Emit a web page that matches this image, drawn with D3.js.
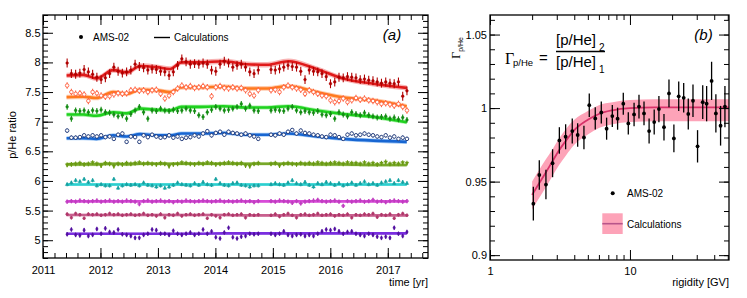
<!DOCTYPE html>
<html>
<head>
<meta charset="utf-8">
<script src="https://cdn.jsdelivr.net/npm/d3@7"></script>
<style>
body { margin: 0; background: #fff; }
svg { font-family: "Liberation Sans", Arial, sans-serif; }
</style>
</head>
<body>
<div id="chart"></div>
<script>
// ---------- data: panel (a), p/He ratio vs time ----------
// Bartels rotations used (2472 and 2473 are missing)
let bartels = [2426,2427,2428,2429,2430,2431,2432,2433,2434,2435,
  2436,2437,2438,2439,2440,2441,2442,2443,2444,2445,
  2446,2447,2448,2449,2450,2451,2452,2453,2454,2455,
  2456,2457,2458,2459,2460,2461,2462,2463,2464,2465,
  2466,2467,2468,2469,2470,2471,
  2474,2475,2476,2477,2478,2479,2480,2481,2482,2483,
  2484,2485,2486,2487,2488,2489,2490,2491,2492,2493,
  2494,2495,2496,2497,2498,2499,2500,2501,2502,2503,
  2504,2505,2506];

let redPts = [7.99,7.81,7.80,7.82,7.88,7.84,7.80,7.75,7.71,7.74,
  7.81,7.92,7.85,7.82,7.84,7.87,7.97,7.93,7.91,7.87,
  7.89,7.88,7.85,7.84,7.78,7.84,7.95,8.06,8.01,7.97,
  7.98,7.97,7.99,7.97,7.87,7.85,7.97,8.02,7.99,7.92,
  7.95,7.97,7.92,7.84,7.81,7.87,
  7.88,7.87,7.89,7.92,7.95,7.93,7.92,7.85,7.71,7.87,
  7.85,7.84,7.81,7.76,7.64,7.67,7.75,7.74,7.76,7.75,
  7.74,7.71,7.72,7.70,7.69,7.67,7.65,7.67,7.65,7.64,
  7.67,7.43,7.52];
let orangePts = [7.61,7.50,7.47,7.48,7.46,7.35,7.50,7.48,7.44,7.42,
  7.43,7.46,7.48,7.47,7.48,7.53,7.54,7.52,7.53,7.50,
  7.53,7.54,7.47,7.39,7.44,7.50,7.56,7.61,7.58,7.60,
  7.57,7.58,7.60,7.58,7.43,7.58,7.60,7.57,7.56,7.58,
  7.56,7.57,7.53,7.47,7.44,7.53,
  7.53,7.54,7.50,7.58,7.61,7.58,7.56,7.54,7.47,7.53,
  7.50,7.47,7.44,7.43,7.36,7.33,7.35,7.39,7.33,7.36,
  7.40,7.37,7.39,7.36,7.35,7.33,7.30,7.31,7.29,7.27,
  7.30,7.25,7.19];
let greenPts = [7.25,7.05,7.19,7.18,7.19,7.16,7.19,7.18,7.20,7.16,
  7.15,7.12,7.09,7.11,7.05,7.13,7.19,7.25,7.16,7.05,
  7.19,7.18,7.22,7.19,7.18,7.20,7.18,7.19,7.22,7.19,
  7.18,7.11,7.08,7.16,7.20,7.25,7.22,7.19,7.20,7.22,
  7.25,7.30,7.22,7.27,7.19,7.18,
  7.19,7.20,7.19,7.18,7.22,7.25,7.19,7.16,7.18,7.16,
  7.15,7.18,7.12,7.11,7.13,7.05,7.16,7.12,7.09,7.16,
  7.13,7.11,7.15,7.11,7.09,7.07,7.08,7.09,7.05,7.07,
  7.04,7.07,7.03];
let bluePts = [6.85,6.73,6.73,6.74,6.77,6.75,6.77,6.75,6.77,6.74,
  6.75,6.71,6.78,6.80,6.66,6.75,6.74,6.66,6.77,6.74,
  6.78,6.75,6.73,6.74,6.77,6.73,6.75,6.71,6.73,6.74,
  6.77,6.75,6.80,6.84,6.77,6.81,6.83,6.78,6.83,6.81,
  6.80,6.78,6.80,6.77,6.75,6.71,
  6.78,6.77,6.80,6.78,6.83,6.86,6.80,6.85,6.81,6.80,
  6.78,6.77,6.75,6.74,6.78,6.77,6.74,6.71,6.78,6.80,
  6.77,6.78,6.80,6.78,6.77,6.75,6.74,6.77,6.73,6.75,
  6.71,6.73,6.71];
let olivePts = [6.27,6.28,6.29,6.30,6.28,6.29,6.31,6.29,6.26,6.30,
  6.29,6.25,6.29,6.28,6.30,6.29,6.30,6.31,6.29,6.30,
  6.29,6.28,6.30,6.29,6.25,6.28,6.29,6.31,6.30,6.29,
  6.28,6.30,6.29,6.31,6.30,6.28,6.29,6.30,6.31,6.30,
  6.29,6.30,6.26,6.25,6.29,6.30,
  6.29,6.30,6.26,6.29,6.30,6.29,6.28,6.30,6.29,6.30,
  6.29,6.31,6.30,6.29,6.30,6.31,6.30,6.29,6.31,6.30,
  6.30,6.29,6.31,6.29,6.30,6.28,6.30,6.32,6.29,6.30,
  6.29,6.31,6.30];
let cyanPts = [5.94,5.97,6.01,5.99,6.03,5.98,6.01,5.92,5.94,5.92,
  5.92,6.03,5.88,5.92,5.94,5.93,5.94,5.92,5.97,5.93,
  5.92,5.90,5.92,5.88,5.90,5.93,5.97,5.94,5.93,5.92,
  5.96,5.93,5.98,5.94,5.93,6.03,5.96,5.93,5.92,5.96,
  5.97,5.93,5.92,5.90,5.92,5.92,
  5.94,5.96,5.94,5.93,5.97,6.01,5.96,5.94,5.98,5.93,
  5.90,5.96,5.94,5.98,5.96,5.93,5.96,5.92,5.94,5.97,
  5.93,5.96,5.99,5.94,5.96,5.93,5.97,5.99,6.01,5.96,
  6.01,5.98,5.96];
let magentaPts = [5.65,5.66,5.65,5.67,5.66,5.65,5.66,5.67,5.65,5.66,
  5.67,5.65,5.66,5.65,5.67,5.66,5.65,5.61,5.66,5.67,
  5.65,5.66,5.67,5.65,5.66,5.64,5.66,5.65,5.67,5.66,
  5.65,5.66,5.67,5.66,5.65,5.66,5.67,5.65,5.66,5.65,
  5.66,5.67,5.65,5.66,5.64,5.66,
  5.66,5.65,5.67,5.66,5.65,5.63,5.66,5.62,5.65,5.66,
  5.67,5.68,5.66,5.65,5.66,5.67,5.65,5.58,5.66,5.65,
  5.66,5.67,5.65,5.66,5.68,5.65,5.66,5.64,5.66,5.67,
  5.66,5.65,5.66];
let mauvePts = [5.44,5.38,5.45,5.43,5.37,5.44,5.43,5.44,5.42,5.43,
  5.45,5.43,5.44,5.42,5.43,5.44,5.42,5.43,5.45,5.42,
  5.43,5.41,5.44,5.38,5.43,5.42,5.45,5.41,5.43,5.44,
  5.42,5.43,5.44,5.37,5.43,5.41,5.38,5.43,5.44,5.42,
  5.43,5.44,5.38,5.43,5.42,5.43,
  5.42,5.44,5.40,5.43,5.45,5.42,5.38,5.43,5.44,5.42,
  5.43,5.45,5.42,5.43,5.44,5.41,5.43,5.42,5.44,5.38,
  5.43,5.42,5.44,5.43,5.45,5.39,5.43,5.42,5.44,5.37,
  5.43,5.45,5.42];
let purplePts = [5.10,5.18,5.09,5.08,5.17,5.07,5.09,5.19,5.11,5.20,
  5.14,5.13,5.18,5.10,5.09,5.07,5.04,5.04,5.09,5.11,
  5.18,5.17,5.11,5.11,5.09,5.16,5.11,5.09,5.11,5.13,
  5.09,5.11,5.18,5.11,5.15,5.05,5.03,5.13,5.21,5.05,
  5.03,5.06,5.07,5.11,5.10,5.11,
  5.11,5.09,5.11,5.15,5.09,5.07,5.09,5.10,5.07,5.09,
  5.07,5.11,5.15,5.18,5.17,5.19,5.15,5.11,5.14,5.15,
  5.11,5.09,5.07,5.11,5.09,5.06,5.04,5.06,5.04,5.21,
  5.11,5.07,5.14];

// typical error per series (red ... purple)
let ptErrors = [0.075, 0.055, 0.05, 0.035, 0.04, 0.03, 0.035, 0.03, 0.03];

// model calculations, knots in decimal years
let calcYears = [2011.41,2011.70,2011.93,2012.22,2012.46,2012.69,2012.98,2013.21,2013.41,
  2013.73,2014.14,2014.54,2014.90,2015.27,2015.76,2016.22,2016.75,2017.33];
let redCalc    = [7.78,7.79,7.73,7.87,7.83,7.94,7.92,7.89,8.00,8.00,8.02,7.97,7.96,8.02,7.89,7.73,7.64,7.57];
let orangeCalc = [7.415,7.42,7.40,7.50,7.47,7.54,7.53,7.50,7.58,7.58,7.59,7.56,7.56,7.60,7.50,7.41,7.36,7.26];
let greenCalc  = [7.12,7.12,7.10,7.16,7.14,7.22,7.20,7.19,7.25,7.25,7.26,7.24,7.24,7.26,7.19,7.13,7.08,6.99];
let blueCalc   = [6.72,6.72,6.71,6.77,6.75,6.79,6.77,6.77,6.80,6.80,6.81,6.78,6.78,6.80,6.75,6.71,6.68,6.66];
let oliveCalc  = [6.28,6.28,6.28,6.29,6.28,6.29,6.29,6.29,6.29,6.29,6.29,6.29,6.29,6.29,6.28,6.28,6.27,6.27];
let cyanCalc   = [5.94,5.94,5.94,5.94,5.94,5.94,5.94,5.94,5.94,5.94,5.94,5.94,5.94,5.94,5.94,5.94,5.94,5.94];
let magentaCalc= [5.655,5.655,5.655,5.655,5.655,5.655,5.655,5.655,5.655,5.655,5.655,5.655,5.655,5.655,5.655,5.655,5.655,5.655];
let mauveCalc  = [5.425,5.425,5.425,5.425,5.425,5.425,5.425,5.425,5.425,5.425,5.425,5.42,5.42,5.42,5.42,5.42,5.42,5.42];
let purpleCalc = [5.11,5.11,5.11,5.11,5.11,5.11,5.11,5.11,5.11,5.11,5.115,5.115,5.115,5.115,5.115,5.115,5.115,5.115];
// half width of the calculation band per series
let calcBand = [0.045, 0.04, 0.035, 0.035, 0.03, 0.025, 0.02, 0.02, 0.02];

let yearTicks = [2011, 2012, 2013, 2014, 2015, 2016, 2017];
let ratioTicks = [5, 5.5, 6, 6.5, 7, 7.5, 8, 8.5];

// ---------- data: panel (b), Gamma vs rigidity ----------
let rigidity = [2.04,2.25,2.51,2.8,3.13,3.47,3.87,4.23,4.69,5.12,5.65,6.24,6.81,7.48,8.16,8.96,9.73,
  10.7,11.6,12.6,13.7,14.9,16.1,17.5,19.0,20.6,22.3,24.2,26.1,28.2,30.4,33.1,35.3,38.3,41.1,44.4,47.7];
let gammaVal = [0.935,0.9545,0.948,0.9625,0.978,0.9805,0.9844,0.9817,0.980,1.002,0.993,0.997,0.986,0.9946,0.9928,1.003,0.9896,
  0.9957,1.001,0.9964,0.9844,0.9905,0.9993,0.987,1.010,0.9794,1.008,1.007,0.996,1.005,0.974,1.004,1.003,1.0185,0.9964,0.988,1.001];
let gammaErr = [0.0115,0.010,0.010,0.0095,0.009,0.0085,0.0085,0.008,0.008,0.008,0.0075,0.0075,0.0075,0.0075,0.0075,0.0075,0.0075,
  0.008,0.008,0.008,0.0085,0.0085,0.009,0.009,0.0095,0.0095,0.010,0.010,0.0105,0.011,0.011,0.0115,0.012,0.013,0.013,0.0135,0.014];

let calcRig   = [2, 2.25, 2.5, 2.8, 3.1, 3.5, 4, 5, 6, 7.5, 10, 15, 25, 51];
let calcGamma = [0.941,0.949,0.956,0.964,0.971,0.978,0.985,0.992,0.996,0.9985,1.0,1.0005,1.0005,1.0005];
let calcLow   = [0.931,0.939,0.946,0.954,0.961,0.968,0.975,0.982,0.9865,0.989,0.9905,0.991,0.991,0.991];
let calcHigh  = [0.950,0.958,0.965,0.972,0.979,0.986,0.992,0.998,1.002,1.004,1.0055,1.006,1.006,1.006];

let gammaTicks = [0.9, 0.95, 1, 1.05];
let rigTicks = [1, 10];
let rigMinor = [2,3,4,5,6,7,8,9,20,30,40,50];

// ---------- svg ----------
let svg = d3.select("#chart")
            .append("svg")
              .attr("width", 747)
              .attr("height", 298)
              .style("background-color", "white")
;

let fontFam = '"Liberation Sans", Arial, sans-serif';

function years(br){
    return 2011.42 + (br - 2426) * 27 / 365.25;
}
let times = bartels.map(years);

// styles per series
let styles = [
  {pts: redPts,     calc: redCalc,     line: "#e01a1a", band: "#f8b4b4", mark: "#b00000", shape: "circle",   open: false},
  {pts: orangePts,  calc: orangeCalc,  line: "#ff7a1e", band: "#ffcdb0", mark: "#ff6040", shape: "circle",   open: true},
  {pts: greenPts,   calc: greenCalc,   line: "#1fd21f", band: "#aaf0aa", mark: "#148c14", shape: "circle",   open: false},
  {pts: bluePts,    calc: blueCalc,    line: "#1866d2", band: "#a9cdf6", mark: "#1c3676", shape: "circle",   open: true},
  {pts: olivePts,   calc: oliveCalc,   line: "#78a82a", band: "#d6e8bc", mark: "#6a9a12", shape: "tridown",  open: false},
  {pts: cyanPts,    calc: cyanCalc,    line: "#2ccfcf", band: "#aaeeee", mark: "#16a2a2", shape: "triangle", open: false},
  {pts: magentaPts, calc: magentaCalc, line: "#d84cd8", band: "#f2bcf2", mark: "#c23ec2", shape: "cross",    open: false},
  {pts: mauvePts,   calc: mauveCalc,   line: "#c8608e", band: "#eec2d6", mark: "#b0386a", shape: "circle",   open: false},
  {pts: purplePts,  calc: purpleCalc,  line: "#7a2ee0", band: "#d4baf4", mark: "#520ea0", shape: "diamond",  open: false}
];

// ---------- panel (a) ----------
let xL = d3.scaleLinear().domain([2011, 2017.7]).range([43, 428]);
let yL = d3.scaleLinear().domain([4.7, 8.8]).range([258, 15]);

let panelA = svg.append("g").attr("class", "panelA");

styles.forEach(function(s, k){
    let knots = calcYears.map((t, i) => ({t: t, v: s.calc[i]}));
    let area = d3.area()
                 .x(d => xL(d.t))
                 .y0(d => yL(d.v - calcBand[k]))
                 .y1(d => yL(d.v + calcBand[k]))
                 .curve(d3.curveMonotoneX);
    panelA.append("path")
            .attr("d", area(knots))
            .attr("fill", s.band);
});

styles.forEach(function(s, k){
    let knots = calcYears.map((t, i) => ({t: t, v: s.calc[i]}));
    let line = d3.line()
                 .x(d => xL(d.t))
                 .y(d => yL(d.v))
                 .curve(d3.curveMonotoneX);
    panelA.append("path")
            .attr("d", line(knots))
            .attr("fill", "none")
            .attr("stroke", s.line)
            .attr("stroke-width", 2.6);
});

let symbolType = {
    circle: d3.symbolCircle, triangle: d3.symbolTriangle, tridown: d3.symbolTriangle,
    diamond: d3.symbolDiamond, cross: d3.symbolCross
};

styles.forEach(function(s, k){
    let pts = s.pts.map((v, i) => ({t: times[i], v: v}));
    let grp = panelA.append("g").attr("class", "series" + k);
    grp.selectAll("line").data(pts).enter().append("line")
        .attr("x1", d => xL(d.t))
        .attr("x2", d => xL(d.t))
        .attr("y1", d => yL(d.v - ptErrors[k]))
        .attr("y2", d => yL(d.v + ptErrors[k]))
        .attr("stroke", s.mark)
        .attr("stroke-width", 1.1);
    let sym = d3.symbol().type(symbolType[s.shape]).size(s.open ? 10 : 6);
    grp.selectAll("path").data(pts).enter().append("path")
        .attr("d", sym)
        .attr("transform", d => "translate(" + xL(d.t) + "," + yL(d.v) + ")" + (s.shape == "tridown" ? " rotate(180)" : ""))
        .attr("fill", s.open ? "white" : s.mark)
        .attr("stroke", s.mark)
        .attr("stroke-width", s.open ? 0.9 : 0.4);
});

// axes of panel (a)
function styleAxis(g){
    g.select(".domain").remove();
    g.attr("font-family", fontFam).attr("font-size", 11);
    g.selectAll("text").attr("fill", "#000");
}

panelA.append("g")
        .attr("transform", "translate(0,258)")
        .call(d3.axisBottom(xL).tickValues(yearTicks).tickSize(-10).tickPadding(8).tickFormat(d3.format("d")))
        .call(styleAxis);
panelA.append("g")
        .attr("transform", "translate(0,258)")
        .call(d3.axisBottom(xL).tickValues(d3.range(2011, 2017.71, 0.2)).tickSize(-5).tickFormat(""))
        .call(styleAxis);
panelA.append("g")
        .attr("transform", "translate(0,15)")
        .call(d3.axisTop(xL).tickValues(yearTicks).tickSize(-10).tickFormat(""))
        .call(styleAxis);
panelA.append("g")
        .attr("transform", "translate(0,15)")
        .call(d3.axisTop(xL).tickValues(d3.range(2011, 2017.71, 0.2)).tickSize(-5).tickFormat(""))
        .call(styleAxis);
panelA.append("g")
        .attr("transform", "translate(43,0)")
        .call(d3.axisLeft(yL).tickValues(ratioTicks).tickSize(-10).tickPadding(2.5).tickFormat(d => String(d)))
        .call(styleAxis);
panelA.append("g")
        .attr("transform", "translate(43,0)")
        .call(d3.axisLeft(yL).tickValues(d3.range(4.7, 8.81, 0.1)).tickSize(-5).tickFormat(""))
        .call(styleAxis);
panelA.append("g")
        .attr("transform", "translate(428,0)")
        .call(d3.axisRight(yL).tickValues(ratioTicks).tickSize(-10).tickFormat(""))
        .call(styleAxis);
panelA.append("g")
        .attr("transform", "translate(428,0)")
        .call(d3.axisRight(yL).tickValues(d3.range(4.7, 8.81, 0.1)).tickSize(-5).tickFormat(""))
        .call(styleAxis);

panelA.append("rect")
        .attr("x", 43).attr("y", 15).attr("width", 385).attr("height", 243)
        .attr("fill", "none").attr("stroke", "#000").attr("stroke-width", 1.3);

panelA.append("text")
        .text("time [yr]")
        .attr("x", 428).attr("y", 285.5)
        .attr("text-anchor", "end")
        .style("font-size", "11px");
panelA.append("text")
        .text("p/He ratio")
        .attr("transform", "translate(16,135) rotate(-90)")
        .attr("text-anchor", "middle")
        .style("font-size", "11px");
panelA.append("text")
        .text("(a)")
        .attr("x", 392).attr("y", 40)
        .attr("text-anchor", "middle")
        .style("font-size", "15px")
        .style("font-style", "italic");

// legend (a)
panelA.append("circle").attr("cx", 81).attr("cy", 37).attr("r", 2).attr("fill", "#000");
panelA.append("text").text("AMS-02").attr("x", 93).attr("y", 40.5).style("font-size", "10px");
panelA.append("line").attr("x1", 154).attr("x2", 170).attr("y1", 37.5).attr("y2", 37.5)
        .attr("stroke", "#000").attr("stroke-width", 1.4);
panelA.append("text").text("Calculations").attr("x", 174).attr("y", 40.5).style("font-size", "10px");

// ---------- panel (b) ----------
let xR = d3.scaleLog().domain([1, 51]).range([490, 729]);
let yR = d3.scaleLinear().domain([0.8967, 1.0633]).range([260, 15]);

let panelB = svg.append("g").attr("class", "panelB");

let calcPts = calcRig.map((r, i) => ({r: r, v: calcGamma[i], lo: calcLow[i], hi: calcHigh[i]}));
panelB.append("path")
        .attr("d", d3.area().x(d => xR(d.r)).y0(d => yR(d.lo)).y1(d => yR(d.hi)).curve(d3.curveMonotoneX)(calcPts))
        .attr("fill", "#fda3b8");
panelB.append("path")
        .attr("d", d3.line().x(d => xR(d.r)).y(d => yR(d.v)).curve(d3.curveMonotoneX)(calcPts))
        .attr("fill", "none")
        .attr("stroke", "#d8336a")
        .attr("stroke-width", 1.8);

let gPts = rigidity.map((r, i) => ({r: r, v: gammaVal[i], e: gammaErr[i]}));
panelB.selectAll(".gerr").data(gPts).enter().append("line")
        .attr("class", "gerr")
        .attr("x1", d => xR(d.r)).attr("x2", d => xR(d.r))
        .attr("y1", d => yR(d.v - d.e)).attr("y2", d => yR(d.v + d.e))
        .attr("stroke", "#000").attr("stroke-width", 1.3);
panelB.selectAll(".gdot").data(gPts).enter().append("circle")
        .attr("class", "gdot")
        .attr("cx", d => xR(d.r)).attr("cy", d => yR(d.v))
        .attr("r", 1.9).attr("fill", "#000");

panelB.append("g")
        .attr("transform", "translate(0,260)")
        .call(d3.axisBottom(xR).tickValues(rigTicks).tickSize(-10).tickPadding(7).tickFormat(d => String(d)))
        .call(styleAxis);
panelB.append("g")
        .attr("transform", "translate(0,260)")
        .call(d3.axisBottom(xR).tickValues(rigMinor).tickSize(-5).tickFormat(""))
        .call(styleAxis);
panelB.append("g")
        .attr("transform", "translate(0,15)")
        .call(d3.axisTop(xR).tickValues(rigTicks).tickSize(-10).tickFormat(""))
        .call(styleAxis);
panelB.append("g")
        .attr("transform", "translate(0,15)")
        .call(d3.axisTop(xR).tickValues(rigMinor).tickSize(-5).tickFormat(""))
        .call(styleAxis);
panelB.append("g")
        .attr("transform", "translate(490,0)")
        .call(d3.axisLeft(yR).tickValues(gammaTicks).tickSize(-10).tickPadding(3).tickFormat(d => String(d)))
        .call(styleAxis);
panelB.append("g")
        .attr("transform", "translate(490,0)")
        .call(d3.axisLeft(yR).tickValues(d3.range(0.9, 1.061, 0.01)).tickSize(-5).tickFormat(""))
        .call(styleAxis);
panelB.append("g")
        .attr("transform", "translate(729,0)")
        .call(d3.axisRight(yR).tickValues(gammaTicks).tickSize(-10).tickFormat(""))
        .call(styleAxis);
panelB.append("g")
        .attr("transform", "translate(729,0)")
        .call(d3.axisRight(yR).tickValues(d3.range(0.9, 1.061, 0.01)).tickSize(-5).tickFormat(""))
        .call(styleAxis);

panelB.append("rect")
        .attr("x", 490).attr("y", 15).attr("width", 239).attr("height", 245)
        .attr("fill", "none").attr("stroke", "#000").attr("stroke-width", 1.3);

panelB.append("text")
        .text("rigidity [GV]")
        .attr("x", 729).attr("y", 285.5)
        .attr("text-anchor", "end")
        .style("font-size", "11px");

let yTitle = panelB.append("text")
        .attr("transform", "translate(460,37) rotate(-90)")
        .attr("text-anchor", "end");
yTitle.append("tspan").text("Γ").style("font-family", '"Liberation Serif", serif').style("font-size", "12px");
yTitle.append("tspan").text("p/He").attr("dy", 2.5).style("font-size", "7px");

panelB.append("text")
        .text("(b)")
        .attr("x", 703.5).attr("y", 40)
        .attr("text-anchor", "middle")
        .style("font-size", "15px")
        .style("font-style", "italic");

// formula
let f = panelB.append("g").attr("class", "formula");
f.append("text").text("Γ").attr("x", 505).attr("y", 64)
        .style("font-family", '"Liberation Serif", serif').style("font-size", "16px");
f.append("text").text("p/He").attr("x", 513).attr("y", 66).style("font-size", "9.5px");
f.append("text").text("=").attr("x", 539).attr("y", 62.5).style("font-size", "15px");
f.append("text").text("[p/He]").attr("x", 556).attr("y", 45).style("font-size", "15px");
f.append("text").text("2").attr("x", 599).attr("y", 50.5).style("font-size", "10px");
f.append("line").attr("x1", 556).attr("x2", 605).attr("y1", 51.5).attr("y2", 51.5)
        .attr("stroke", "#000").attr("stroke-width", 1.4);
f.append("text").text("[p/He]").attr("x", 556).attr("y", 67).style("font-size", "15px");
f.append("text").text("1").attr("x", 599).attr("y", 73).style("font-size", "10px");

// legend (b)
panelB.append("circle").attr("cx", 612.7).attr("cy", 193.3).attr("r", 2).attr("fill", "#000");
panelB.append("text").text("AMS-02").attr("x", 627).attr("y", 197).style("font-size", "10px");
panelB.append("rect").attr("x", 602.3).attr("y", 213.3).attr("width", 20.4).attr("height", 20.7)
        .attr("fill", "#fda3b8");
panelB.append("line").attr("x1", 602.3).attr("x2", 622.7).attr("y1", 223.7).attr("y2", 223.7)
        .attr("stroke", "#b8558a").attr("stroke-width", 1.6);
panelB.append("text").text("Calculations").attr("x", 627).attr("y", 227.5).style("font-size", "10px");
</script>
</body>
</html>
